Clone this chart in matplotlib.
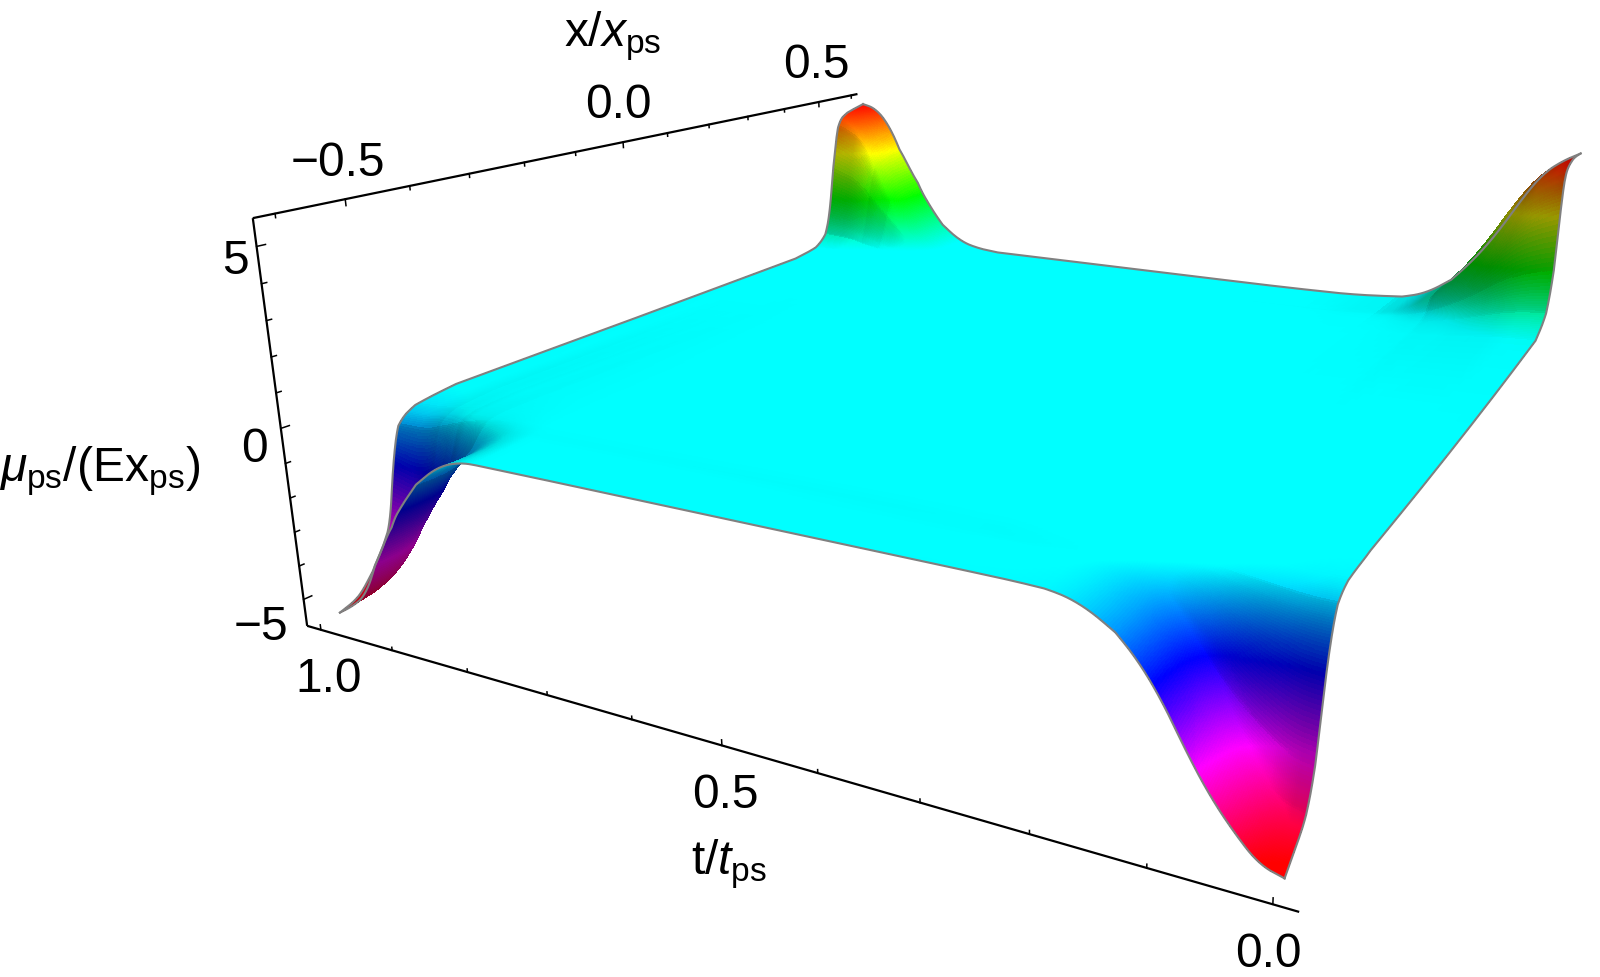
import numpy as np
import matplotlib
matplotlib.use("Agg")
import matplotlib.pyplot as plt
from matplotlib import colors as mcolors

plt.rcParams['font.family'] = ['Liberation Sans', 'DejaVu Sans']
plt.rcParams['mathtext.fontset'] = 'custom'
plt.rcParams['mathtext.rm'] = 'Liberation Sans'
plt.rcParams['mathtext.it'] = 'Liberation Sans:italic'

# box limits and ticks
xlim = (-0.63, 0.62)
tlim = (-0.02, 1.02)
zlim = (-5.8, 5.75)
x_ticks = [-0.6, -0.5, -0.4, -0.3, -0.2, -0.1, 0.0, 0.1, 0.2, 0.3, 0.4, 0.5, 0.6]
x_major = [-0.5, 0.0, 0.5]
t_ticks = [0.0, 0.1, 0.2, 0.3, 0.4, 0.5, 0.6, 0.7, 0.8, 0.9, 1.0]
t_major = [0.0, 0.5, 1.0]
z_ticks = [-5, -4, -3, -2, -1, 0, 1, 2, 3, 4, 5]
z_major = [-5, 0, 5]

# mu_ps/(E x_ps) on the (t, x) nodes
x_nodes = [-0.6, -0.57, -0.545, -0.525, -0.51, -0.495, -0.48, -0.45, -0.38, 0, 0.38, 0.44, 0.47, 0.485, 0.5, 0.52, 0.55, 0.6]
t_nodes = [0, .02, .04, .06, .08, .1, .12, .14, .17, .2, .28, .5, .78, .81, .84, .87, .89, .91, .94, .96, .98, 1]
mu_table = [
    [-5.60, -5.22, -4.87, -3.99, -2.35, -1.17, -.54, -.28, -.24, -.05, .31, .79, 1.92, 4.57, 5.15, 5.31, 5.43, 5.40],
    [-5.45, -5.09, -4.74, -3.89, -2.29, -1.14, -.53, -.28, -.23, -.05, .29, .75, 1.82, 4.32, 4.87, 5.02, 5.14, 5.11],
    [-4.88, -4.55, -4.24, -3.48, -2.05, -1.02, -.47, -.25, -.21, -.05, .27, .69, 1.66, 3.95, 4.46, 4.59, 4.70, 4.67],
    [-4.19, -3.90, -3.64, -2.98, -1.76, -.88, -.40, -.21, -.18, -.04, .22, .57, 1.38, 3.29, 3.70, 3.82, 3.90, 3.88],
    [-3.31, -3.08, -2.88, -2.36, -1.39, -.69, -.32, -.17, -.14, -.03, .17, .43, 1.04, 2.48, 2.80, 2.88, 2.95, 2.93],
    [-2.30, -2.14, -2.00, -1.64, -.96, -.48, -.22, -.11, -.10, -.02, .12, .30, .74, 1.76, 1.98, 2.04, 2.09, 2.08],
    [-1.50, -1.40, -1.31, -1.07, -.63, -.31, -.14, -.08, -.06, -.01, .08, .20, .49, 1.16, 1.31, 1.35, 1.38, 1.37],
    [-.93, -.87, -.81, -.66, -.39, -.19, -.09, -.05, -.04, -.01, .04, .11, .27, .65, .74, .76, .78, .77],
    [-.44, -.41, -.38, -.32, -.19, -.09, -.04, -.02, -.02, 0, .01, .03, .07, .18, .20, .21, .21, .21],
    [-.27, -.25, -.23, -.19, -.11, -.06, -.03, -.01, -.01, 0, 0, 0, 0, -.02, -.02, -.02, -.02, -.02],
    [-.26, -.24, -.22, -.18, -.11, -.05, -.02, -.01, -.01, 0, -.01, -.02, -.06, -.14, -.15, -.16, -.16, -.16],
    [-.24, -.23, -.21, -.18, -.16, -.08, -.03, -.02, -.01, 0, 0, 0, -.01, -.03, -.06, -.10, -.10, -.11],
    [-.21, -.21, -.18, -.16, -.14, -.07, -.03, -.02, -.01, 0, 0, 0, 0, -.01, -.02, -.03, -.03, -.03],
    [-.23, -.23, -.20, -.18, -.15, -.08, -.03, -.02, -.01, 0, 0, 0, 0, .01, .02, .03, .04, .04],
    [-.51, -.52, -.50, -.42, -.34, -.17, -.07, -.04, -.02, 0, .01, .01, .03, .07, .14, .23, .24, .25],
    [-1.13, -1.14, -1.10, -.95, -.78, -.39, -.15, -.08, -.04, -.01, .02, .04, .10, .21, .47, .76, .81, .84],
    [-1.74, -1.75, -1.70, -1.50, -1.30, -.70, -.23, -.13, -.07, -.02, .03, .07, .18, .39, .87, 1.40, 1.48, 1.53],
    [-2.44, -2.45, -2.40, -2.20, -1.90, -1.10, -.32, -.18, -.09, -.03, .05, .11, .27, .61, 1.33, 2.15, 2.27, 2.36],
    [-3.86, -3.85, -3.70, -3.40, -3.00, -1.90, -.55, -.28, -.15, -.05, .09, .18, .43, .97, 2.14, 3.45, 3.65, 3.79],
    [-4.83, -4.80, -4.60, -4.20, -3.70, -2.20, -.70, -.35, -.19, -.06, .11, .22, .55, 1.23, 2.70, 4.36, 4.61, 4.78],
    [-5.25, -5.15, -4.80, -4.30, -3.70, -2.10, -.72, -.38, -.20, -.06, .115, .235, .585, 1.31, 2.90, 4.70, 5.02, 5.30],
    [-5.56, -5.38, -4.81, -4.19, -3.67, -1.91, -.74, -.40, -.21, -.07, .12, .25, .62, 1.40, 3.07, 4.95, 5.24, 5.43],
]

# tick labels: text, pixel centre
tick_labels = [("\u22120.5", 338, 164), ("0.0", 618, 106), ("0.5", 816, 65),
               ("5", 235, 262), ("0", 254, 450), ("\u22125", 261, 628),
               ("1.0", 329, 679), ("0.5", 725, 796), ("0.0", 1268, 955)]
axis_labels = [(r"x/$x_{\mathrm{ps}}$", 613, 36), (r"t/$t_{\mathrm{ps}}$", 729, 864),
               (r"$\mu_{\mathrm{ps}}$/(E$\mathrm{x}_{\mathrm{ps}}$)", 100, 471)]


def refine(nodes, sub=14):
    nodes = np.asarray(nodes, float)
    pos = np.arange(len(nodes))
    return np.interp(np.linspace(0, len(nodes)-1, (len(nodes)-1)*sub+1), pos, nodes)


def soften(a, axis, width=15):
    # running mean over one node spacing, mirrored at the ends so corners stay put
    pad = width//2
    cfg = [(0, 0), (0, 0)]
    cfg[axis] = (pad, pad)
    b = np.pad(a, cfg, mode="reflect", reflect_type="odd")
    k = np.ones(width)/width
    return np.apply_along_axis(lambda r: np.convolve(r, k, mode="valid"), axis, b)


fig = plt.figure(figsize=(16, 9.78), dpi=100)
ax = fig.add_axes([0, 0, 1, 1], projection="3d", computed_zorder=False)
ax.set_xlim(*xlim)
ax.set_ylim(*tlim)
ax.set_zlim(*zlim)
ax.view_init(16.26107, -151.55349, 0.34848)
ax.set_proj_type("persp", focal_length=0.22873)
aspect = (0.99346, 1.0, 0.40093)
ax.set_box_aspect(aspect)
ax.set_axis_off()

# place the 2D view box so the projection lands where it should on the figure
S, cx, cy = 7335.34, 1004.02, 366.39
x0, x1 = ax.viewLim.intervalx
y0, y1 = ax.viewLim.intervaly
side = S*(x1-x0)
ax.set_position([(cx+S*x0)/1600, 1-(cy-S*y0)/978, side/1600, side/978])

# fine mesh for the surface
xf = refine(x_nodes)
tf = refine(t_nodes)
X, T = np.meshgrid(xf, tf)
mu = np.array(mu_table)
Z = np.array([np.interp(xf, x_nodes, row) for row in mu])
Z = np.array([np.interp(tf, t_nodes, col) for col in Z.T]).T
Z = soften(soften(Z, 0), 1)

# hue runs with mu, brightness comes from a light placed on the low-t side
dzdt, dzdx = np.gradient(Z, tf, xf)
sx = (aspect[2]/(zlim[1]-zlim[0]))/(aspect[0]/(xlim[1]-xlim[0]))
st = (aspect[2]/(zlim[1]-zlim[0]))/(aspect[1]/(tlim[1]-tlim[0]))
nx_, nt_ = -dzdx*sx, -dzdt*st
norm = np.sqrt(nx_**2+nt_**2+1)
shade = 0.55+0.45*np.clip((-nt_+1)/norm, 0, 1)
level = np.sign(Z)*np.clip(np.abs(Z)-0.25, 0, None)
hue = np.clip(0.5-level/10.4, 0, 1)
rgb = mcolors.hsv_to_rgb(np.dstack([hue, np.ones_like(hue), shade]))
ax.plot_surface(X, T, Z, facecolors=rgb, rstride=1, cstride=1, shade=False,
                linewidth=0, antialiased=False, zorder=1, clip_on=False)

# grey rim of the surface
rim = [(xf, tf[0]*np.ones_like(xf), Z[0]), (xf, tf[-1]*np.ones_like(xf), Z[-1]),
       (xf[0]*np.ones_like(tf), tf, Z[:, 0]), (xf[-1]*np.ones_like(tf), tf, Z[:, -1])]
for a, b, c in rim:
    ax.plot(a, b, c, color="0.5", lw=1.5, zorder=3, clip_on=False)

# three box edges with their ticks
line = dict(color="black", lw=1.6, zorder=0, clip_on=False, solid_capstyle="butt")
ax.plot([xlim[0], xlim[1]], [tlim[1], tlim[1]], [zlim[1], zlim[1]], **line)
ax.plot([xlim[0], xlim[0]], [tlim[1], tlim[1]], [zlim[0], zlim[1]], **line)
ax.plot([xlim[0], xlim[0]], [tlim[0], tlim[1]], [zlim[0], zlim[0]], **line)
tick = dict(color="black", lw=1.1, zorder=0, clip_on=False)
for v in x_ticks:
    d = 0.18 if v in x_major else 0.11
    ax.plot([v, v], [tlim[1], tlim[1]], [zlim[1], zlim[1]-d], **tick)
for v in t_ticks:
    d = 0.15 if v in t_major else 0.09
    ax.plot([xlim[0], xlim[0]], [v, v], [zlim[0], zlim[0]+d], **tick)
for v in z_ticks:
    d = 0.012 if v in z_major else 0.007
    ax.plot([xlim[0], xlim[0]+d], [tlim[1], tlim[1]], [v, v], **tick)
ax.set_xlim(*xlim)
ax.set_ylim(*tlim)
ax.set_zlim(*zlim)

for s, px, py in tick_labels + axis_labels:
    fig.text(px/1600, 1-py/978, s, fontsize=34.5, ha="center", va="center")

fig.savefig("out.png", dpi=100)
